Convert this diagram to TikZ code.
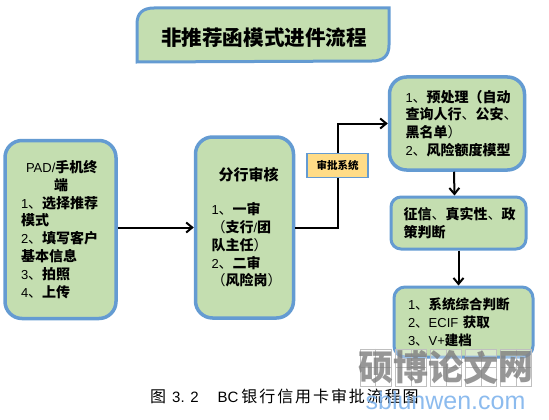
\documentclass[tikz,border=0pt]{standalone}
\usepackage{fontspec}
\setmainfont{Noto Sans CJK SC}
\newfontfamily\lat{Liberation Sans}
\usetikzlibrary{arrows.meta,calc,shapes.misc}
\definecolor{boxfill}{RGB}{196,222,176}
\definecolor{boxedge}{RGB}{100,155,210}
\definecolor{sysfill}{RGB}{255,220,135}
\definecolor{wmgrey}{RGB}{125,125,125}
\definecolor{wmblue}{RGB}{120,175,235}
\lineskiplimit=-10pt
\newcommand{\zh}[1]{\textbf{#1}}
\newcommand{\nm}[1]{{\lat\fontsize{13}{18}\selectfont #1}}
\tikzset{
  x=1pt,y=-1pt,
  flowbox/.style={draw=boxedge,fill=boxfill,line width=3.5pt,rounded corners=17pt,align=left,inner sep=0pt,font=\fontsize{14}{17.8}\selectfont},
  flowline/.style={draw=black,line width=2pt},
  flowarrow/.style={flowline,-{Straight Barb[length=6pt,width=10pt]}},
  wmsquare/.style={draw=black!25,fill=white,fill opacity=.35,line width=.6pt,minimum width=31pt,minimum height=37pt,inner sep=0pt},
  wmtext/.style={text=wmgrey,font=\fontsize{35}{35}\selectfont\bfseries,text opacity=.8,inner sep=0pt}
}
\begin{document}
\begin{tikzpicture}
\useasboundingbox (0,0) rectangle (549,420);
% title
\draw[draw=boxedge,fill=boxfill,line width=3pt] (137,62) -- (137,24) .. controls (137,13) and (143,8) .. (154,8) -- (389,8) -- (389,45) .. controls (389,56) and (383,61) .. (372,61) -- cycle;
\node[inner sep=0pt,font=\fontsize{20.6}{22}\selectfont\bfseries] (title) at (264,37.5) {非推荐函模式进件流程};
% boxes
\node[flowbox,minimum width=111pt,minimum height=178pt,text width=79pt] (pad) at (60.5,229.5) {\hspace*{5pt}\nm{PAD/}\zh{手机终}\\\hspace*{33pt}\zh{端}\\\nm{1}、\zh{选择推荐}\\\zh{模式}\\\nm{2}、\zh{填写客户}\\\zh{基本信息}\\\nm{3}、\zh{拍照}\\\nm{4}、\zh{上传}};
\node[flowbox,minimum width=98pt,minimum height=181pt,text width=66pt] (branch) at (244.5,227.5) {\hspace*{7pt}{\fontsize{15}{18}\selectfont\zh{分行审核}}\\[16pt]\nm{1}、\zh{一审}\\（\zh{支行}\nm{/}\zh{团}\\\zh{队主任}）\\\nm{2}、\zh{二审}\\（\zh{风险岗}）};
\node[draw=boxedge,fill=sysfill,line width=1.5pt,minimum width=61pt,minimum height=24pt,inner sep=0pt,font=\fontsize{10.5}{11}\selectfont\bfseries] (sys) at (337.5,165.5) {审批系统};
\node[flowbox,minimum width=135pt,minimum height=93pt,text width=103pt] (r1) at (457,123.5) {\nm{1}、\zh{预处理（自动}\\\zh{查询人行}、\zh{公安}、\\\zh{黑名单}）\\\nm{2}、\zh{风险额度模型}};
\node[flowbox,line width=3pt,minimum width=135pt,minimum height=52pt,rounded corners=10pt,text width=110pt] (r2) at (458.5,223) {\zh{征信}、\zh{真实性}、\zh{政}\\\zh{策判断}};
\node[flowbox,line width=3pt,minimum width=139pt,minimum height=70pt,rounded corners=11pt,text width=111pt,font=\fontsize{13.5}{18}\selectfont] (r3) at (463.5,322) {\nm{1}、\zh{系统综合判断}\\\nm{2}、\nm{ECIF} \zh{获取}\\\nm{3}、\nm{V+}\zh{建档}};
% connectors
\draw[flowarrow] (pad.east |- branch.west) -- (branch.west);
\draw[flowline] (branch.east) -| (sys.south);
\draw[flowarrow] (sys.north) |- (r1.west);
\draw[flowarrow] ($(r1.south)+(-3,0)$) -- ($(r2.north)+(-4,0)$);
\draw[flowarrow] (r2.south) -- (r2.south |- r3.north);
% caption
\node[anchor=west,inner sep=0pt,font=\fontsize{16}{18}\selectfont\addfontfeatures{LetterSpace=12}] (cap) at (150,396) {图\hspace{6pt}{\lat\fontsize{15}{18}\selectfont 3. 2}\hspace{19pt}{\lat\fontsize{15}{18}\selectfont BC}\hspace{3pt}银行信用卡审批流程图};
% watermark
\foreach \i/\sx in {1/375.5,2/411,3/446,4/481,5/516}{
  \node[wmsquare] (sq\i) at (\sx,367.5) {};
  \draw[black!25,line width=.4pt] (sq\i.north) -- (sq\i.south) (sq\i.west) -- (sq\i.east);
}
\node[wmtext] (wm1) at (sq1) {硕};
\node[wmtext] (wm2) at (sq2) {博};
\node[wmtext] (wm3) at (sq3) {论};
\node[wmtext] (wm4) at (sq4) {文};
\node[wmtext] (wm5) at (sq5) {网};
\node[inner sep=0pt,text=wmblue,text opacity=.85,font=\lat\fontsize{25}{26}\selectfont] (wmurl) at (445.5,401) {sblunwen.com};
\end{tikzpicture}
\end{document}
